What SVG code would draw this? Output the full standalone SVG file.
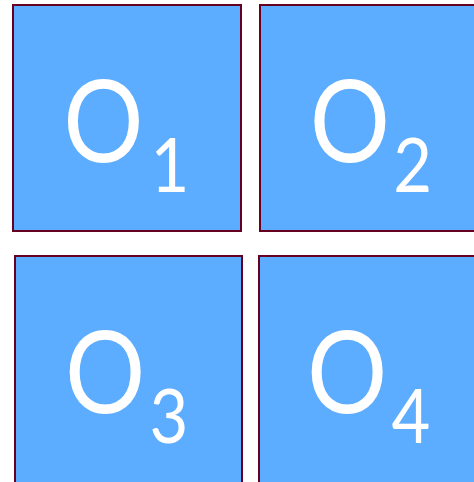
<svg xmlns="http://www.w3.org/2000/svg" width="474" height="482" viewBox="0 0 474 482">
<style>
.box{fill:#5cacff;stroke:#650020;stroke-width:2}
.t{font-family:Lato,"Open Sans",sans-serif;fill:#ffffff;font-weight:400}
.big{font-size:114px}
.sub{font-size:76px}
</style>
<rect width="474" height="482" fill="#ffffff"/>
<g id="o1"><rect class="box" x="13" y="5" width="228" height="226"/>
<text class="t" transform="matrix(0.88 0 0 1 0 0)"><tspan class="big" x="72" y="162">O</tspan><tspan class="sub" x="171" y="192">1</tspan></text></g>
<g id="o2"><rect class="box" x="260" y="5" width="220" height="226"/>
<text class="t" transform="matrix(0.88 0 0 1 0 0)"><tspan class="big" x="352" y="162">O</tspan><tspan class="sub" x="447" y="192">2</tspan></text></g>
<g id="o3"><rect class="box" x="15" y="256" width="227" height="232"/>
<text class="t" transform="matrix(0.88 0 0 1 0 0)"><tspan class="big" x="74" y="413">O</tspan><tspan class="sub" x="170" y="443">3</tspan></text></g>
<g id="o4"><rect class="box" x="259" y="256" width="221" height="232"/>
<text class="t" transform="matrix(0.88 0 0 1 0 0)"><tspan class="big" x="349" y="413">O</tspan><tspan class="sub" x="445" y="443">4</tspan></text></g>
<g id="connectors"></g>
</svg>
